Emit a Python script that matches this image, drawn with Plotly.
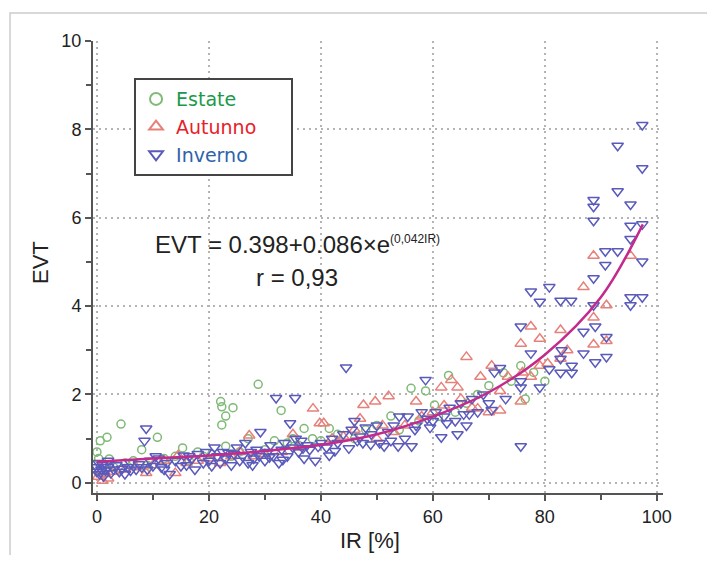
import plotly.graph_objects as go

# ---- data ----
estate = [(0, 0.7), (0.3, 0.55), (0.6, 0.95), (1.2, 0.4), (1.8, 1.03), (2.2, 0.54), (3, 0.35),
          (4.3, 1.33), (5, 0.45), (6.5, 0.5), (8, 0.75), (9, 0.4), (10.8, 1.03), (12, 0.55),
          (14, 0.6), (15.3, 0.79), (16.5, 0.5), (18, 0.7), (19, 0.6), (20.5, 0.65), (22.1, 1.84),
          (22.3, 1.72), (23, 1.51), (22.3, 1.31), (24.3, 1.7), (23, 0.83), (24, 0.6), (25.5, 0.7),
          (27, 1.0), (28.8, 2.23), (30, 0.75), (31.7, 0.95), (32.9, 1.64), (34, 0.9), (35, 1.0),
          (36, 0.85), (37, 1.23), (38.5, 1.0), (40, 0.95), (41.5, 1.23), (43, 1.1), (46, 1.0),
          (48, 1.2), (50, 1.3), (52.5, 1.51), (54, 1.2), (56.1, 2.14), (57.5, 1.4), (58.7, 2.08),
          (60.3, 1.76), (61, 1.5), (62.8, 2.43), (64, 1.6), (66, 1.8), (68, 2.0), (70, 2.2),
          (72.6, 2.49), (74, 2.3), (75.7, 2.65), (76.5, 1.9), (78, 2.5), (80, 2.3)]

autunno = [(0.2, 0.14), (0.5, 0.3), (1, 0.05), (1.5, 0.2), (2, 0.1), (3, 0.25), (5, 0.3), (7, 0.35),
           (8.8, 0.22), (10, 0.4), (12, 0.5), (14, 0.22), (14.5, 0.62), (16, 0.45), (18, 0.5),
           (20, 0.55), (22, 0.45), (24, 0.6), (25.5, 0.7), (27.2, 1.07), (28, 0.6), (30, 0.65),
           (33, 0.7), (35, 1.1), (36, 0.8), (38.6, 1.68), (39.8, 1.35), (40.5, 1.35), (42, 1.0),
           (44, 1.05), (46, 1.2), (47, 1.45), (47.6, 1.76), (49.7, 1.84), (50, 1.0), (51, 1.3),
           (52.1, 1.96), (53, 1.15), (55, 1.3), (57, 1.84), (58, 1.5), (60, 1.6), (61.5, 2.16),
           (62, 1.75), (63.3, 2.33), (64.4, 2.16), (65, 1.9), (66, 2.85), (67, 1.7), (68, 1.68),
           (68.5, 2.4), (70, 1.6), (70.5, 2.65), (72, 2.08), (72, 1.64), (73.4, 2.4), (75.7, 1.84),
           (75.7, 3.15), (76, 2.5), (77.5, 3.54), (77.5, 2.4), (79.1, 3.26), (79.1, 2.65),
           (80.5, 2.7), (82.8, 3.46), (82.8, 2.81), (84, 3.0), (86.9, 4.43), (88.7, 5.14),
           (88.7, 3.74), (88.7, 3.13), (91, 4.02), (91, 3.21), (95.3, 5.14)]

inverno = [(0, 0.35), (0, 0.25), (0.3, 0.45), (0.5, 0.2), (0.8, 0.3), (1, 0.4), (1.2, 0.15),
           (1.5, 0.28), (2, 0.35), (2.5, 0.22), (3, 0.3), (3.5, 0.4), (4, 0.25), (4.5, 0.32),
           (5, 0.2), (5.5, 0.35), (6, 0.28), (7, 0.3), (7.5, 0.42), (8, 0.35), (8.5, 0.95),
           (8.8, 1.23), (9, 0.3), (9.5, 0.5), (10, 0.38), (10.5, 0.6), (11, 0.55), (12, 0.3),
           (12.5, 0.45), (13, 0.2), (14, 0.5), (15, 0.38), (15.5, 0.62), (16, 0.4), (17, 0.55),
           (17.5, 0.3), (18, 0.65), (19, 0.45), (19.5, 0.7), (20, 0.5), (20.5, 0.38), (21, 0.8),
           (21.5, 0.6), (22, 0.45), (22.5, 0.7), (23, 0.55), (24, 0.4), (24.5, 0.65), (25, 0.8),
           (25.5, 0.5), (26, 0.6), (26.5, 0.9), (27, 0.45), (27.5, 0.7), (28, 0.55), (28.5, 0.75),
           (29, 0.6), (29.2, 1.15), (30, 0.5), (30.5, 0.7), (31, 0.85), (31.5, 0.6), (32, 1.92),
           (32.5, 0.45), (33, 0.75), (33.5, 0.9), (34, 0.6), (34.5, 1.35), (35, 0.8), (35.4, 1.92),
           (35.5, 1.0), (36, 0.7), (36.5, 0.95), (37, 0.55), (37.5, 0.85), (38, 0.75), (39, 0.5),
           (40, 0.9), (41, 0.8), (41.5, 0.62), (42, 1.0), (43, 0.9), (44, 1.1), (44.5, 2.61),
           (45, 0.78), (45.5, 1.2), (46, 1.4), (46.5, 0.95), (47, 1.05), (48, 1.25), (48.9, 0.87),
           (49, 1.1), (50, 1.3), (50.5, 0.9), (51.3, 0.83), (52, 1.15), (53, 1.3), (53.8, 0.83),
           (54, 1.5), (55, 1.0), (55.5, 1.5), (56.2, 0.83), (57, 1.3), (58, 1.6), (58.7, 2.33),
           (59, 1.45), (60, 1.4), (60.5, 1.6), (61.5, 1.03), (62, 1.5), (63, 1.7), (64, 1.4),
           (64.4, 1.1), (65, 1.8), (65.5, 1.55), (66, 1.3), (67, 1.9), (68, 1.6), (69, 2.0),
           (70, 1.8), (71, 2.5), (72, 2.6), (73, 1.9), (75.7, 2.16), (75.7, 2.3), (75.7, 0.83),
           (75.7, 3.54), (77.5, 2.93), (77.5, 4.33), (79.1, 2.16), (79.1, 4.1), (80.8, 4.43),
           (80.8, 2.57), (82.8, 4.12), (82.8, 2.81), (82.8, 2.49), (83, 3.0), (84.7, 4.12),
           (84.8, 2.65), (84.8, 2.49), (86.9, 3.42), (86.9, 2.93), (88.7, 4.02), (88.7, 4.63),
           (88.7, 5.93), (88.7, 6.25), (88.7, 6.4), (89, 3.54), (89, 2.73), (90.8, 5.24),
           (90.8, 4.93), (91, 2.85), (91, 3.3), (93, 7.63), (93, 6.6), (93, 5.24), (95.3, 6.3),
           (95.3, 5.82), (95.3, 5.52), (95.3, 4.2), (95.3, 4.02), (97.4, 8.1), (97.4, 7.12),
           (97.4, 5.85), (97.4, 5.01), (97.4, 4.2),
           (2, 0.5), (6, 0.45), (11.5, 0.35), (16.5, 0.6), (23.5, 0.68), (27.8, 0.4), (30.8, 0.58),
           (33.2, 0.52), (36.8, 0.78), (39.5, 0.82), (42.5, 0.72), (47.5, 0.9), (52.5, 0.95),
           (56.8, 1.2), (59.5, 1.25), (62.5, 1.35), (66.5, 1.55), (70.5, 1.65)]

fit_ir = [0, 10, 20, 30, 40, 50, 60, 70, 80, 90, 97.5]
fit_evt = [0.48, 0.55, 0.62, 0.72, 0.86, 1.1, 1.5, 2.05, 2.9, 4.2, 5.85]

x_ticks = [0, 20, 40, 60, 80, 100]
y_ticks = [0, 2, 4, 6, 8, 10]

TXT = "Liberation Sans, Arial, sans-serif"
PAD = '<span style="color:white">___</span>'

fig = go.Figure()

def add_series(data, name, color, label_color, symbol, size, pad):
    fig.add_trace(go.Scatter(
        x=[p[0] for p in data], y=[p[1] for p in data], mode="markers",
        name=f'<span style="color:{label_color}">{name}</span>{pad}',
        marker=dict(symbol=symbol, size=size, color=color,
                    line=dict(color=color, width=1.5)),
    ))

add_series(estate, "Estate", "#7fba76", "#1a9a4a", "circle-open", 8, "")
add_series(autunno, "Autunno", "#e8807a", "#e8202a", "triangle-up-open", 10, PAD)
add_series(inverno, "Inverno", "#5a5abb", "#2e62aa", "triangle-down-open", 10, "")

fig.add_trace(go.Scatter(x=fit_ir, y=fit_evt, mode="lines", showlegend=False,
                         line=dict(color="#c42a8c", width=2.5, shape="spline")))

axis_common = dict(showline=True, linecolor="#555555", linewidth=2, ticks="outside",
                   ticklen=6, tickwidth=2, tickcolor="#555555", showgrid=True,
                   gridcolor="#b4b4b4", gridwidth=2, griddash="2px,4px", zeroline=False,
                   automargin=False,
                   tickfont=dict(family=TXT, size=18, color="#222222"))

fig.update_xaxes(range=[-0.7, 101.1], tickvals=x_ticks,
                 minor=dict(dtick=10, ticks="outside", ticklen=5, tickwidth=2,
                            tickcolor="#555555", showgrid=False),
                 **axis_common)
fig.update_yaxes(range=[-0.23, 10.0], tickvals=y_ticks,
                 minor=dict(dtick=1, ticks="outside", ticklen=5, tickwidth=2,
                            tickcolor="#555555", showgrid=False),
                 **axis_common)

# page has an 8px body margin, so the figure is drawn 8px in from the top-left
fig.update_layout(
    width=707, height=547,
    margin=dict(l=85, r=52, t=33, b=62),
    paper_bgcolor="white", plot_bgcolor="white",
    showlegend=True,
    legend=dict(x=0.072, y=0.918, xanchor="left", yanchor="top",
                bgcolor="white", bordercolor="#444444", borderwidth=2,
                font=dict(family="DejaVu Sans, sans-serif", size=19),
                itemsizing="constant", tracegroupgap=0),
    annotations=[
        dict(text='EVT = 0.398+0.086×e<sup><span style="font-size:12px">(0,042IR)</span></sup>',
             x=0.105, y=0.549,
             xref="paper", yref="paper", xanchor="left", yanchor="middle",
             showarrow=False, font=dict(family=TXT, size=24, color="#222222")),
        dict(text="r = 0,93", x=0.358, y=0.476, xref="paper", yref="paper",
             xanchor="center", yanchor="middle", showarrow=False,
             font=dict(family=TXT, size=24, color="#222222")),
        dict(text="EVT", x=-0.093, y=0.511, xref="paper", yref="paper", textangle=-90,
             xanchor="center", yanchor="middle", showarrow=False,
             font=dict(family=TXT, size=22, color="#222222")),
        dict(text="IR [%]", x=0.486, y=-0.105, xref="paper", yref="paper",
             xanchor="center", yanchor="middle", showarrow=False,
             font=dict(family=TXT, size=22, color="#222222")),
    ],
    shapes=[dict(type="rect", xref="paper", yref="paper", x0=-0.1456, x1=1.086,
                 y0=-0.3, y1=1.062, line=dict(color="#cccccc", width=1.5),
                 fillcolor="rgba(0,0,0,0)", layer="below")],
)

fig.write_html("out.html")
